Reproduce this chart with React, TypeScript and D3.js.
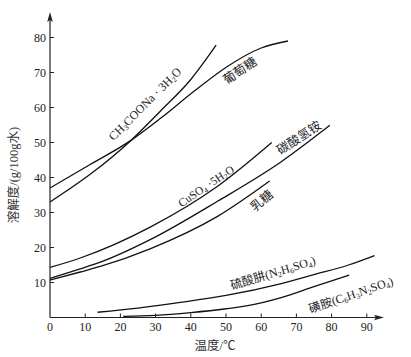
import React from "react";
import * as d3 from "d3";

// ---- data ----
const xTicks = [0, 10, 20, 30, 40, 50, 60, 70, 80, 90];
const yTicks = [10, 20, 30, 40, 50, 60, 70, 80];

const ch3coonaT = [0, 11.4, 23, 31.4, 40, 47.2];
const ch3coonaS = [33, 40.9, 50.6, 59, 68, 77.8];

const glucoseT = [0, 11.4, 23, 31.4, 41, 50.5, 60, 67.6];
const glucoseS = [37, 43.7, 50.6, 56.9, 64.7, 71.8, 77, 79];

const cuso4T = [0, 8.6, 28.6, 47.6, 63];
const cuso4S = [14.3, 17.0, 25.9, 37.5, 50];

const nh4hco3T = [0, 8.6, 14.3, 28.6, 47.6, 65.7, 79.5];
const nh4hco3S = [11.2, 13.9, 15.8, 22.3, 33.2, 44.5, 54.9];

const lactoseT = [0, 8.6, 14.3, 28.6, 47.6, 62.4];
const lactoseS = [10.7, 13.0, 14.6, 19.7, 28.9, 39];

const hydrazineT = [13.5, 25, 37, 50, 65.7, 75.2, 84.8, 92.2];
const hydrazineS = [1.5, 2.7, 4.3, 6.3, 9.7, 12.3, 15.0, 17.7];

const sulfaT = [20.8, 30, 40, 50, 56.2, 65.7, 75.2, 85];
const sulfaS = [0.3, 0.6, 1.4, 2.5, 3.4, 5.7, 8.9, 12.1];

const xTitle = "温度/℃";
const yTitle = "溶解度/(g/100g水)";

type Part = { t: string; sub?: boolean };

const series: { T: number[]; S: number[] }[] = [
  { T: ch3coonaT, S: ch3coonaS },
  { T: glucoseT, S: glucoseS },
  { T: cuso4T, S: cuso4S },
  { T: nh4hco3T, S: nh4hco3S },
  { T: lactoseT, S: lactoseS },
  { T: hydrazineT, S: hydrazineS },
  { T: sulfaT, S: sulfaS },
];

const labels: { parts: Part[]; x: number; y: number; angle: number; size: number }[] = [
  {
    parts: [{ t: "CH" }, { t: "3", sub: true }, { t: "COONa · 3H" }, { t: "2", sub: true }, { t: "O" }],
    x: 145, y: 104, angle: -45, size: 12,
  },
  { parts: [{ t: "葡萄糖" }], x: 240, y: 71, angle: -34, size: 12.5 },
  {
    parts: [{ t: "CuSO" }, { t: "4", sub: true }, { t: " ·5H" }, { t: "2", sub: true }, { t: "O" }],
    x: 206, y: 186, angle: -34, size: 11.5,
  },
  { parts: [{ t: "碳酸氢铵" }], x: 299, y: 138, angle: -33, size: 12.5 },
  { parts: [{ t: "乳糖" }], x: 262, y: 201, angle: -40, size: 12.5 },
  {
    parts: [{ t: "硫酸肼(N" }, { t: "2", sub: true }, { t: "H" }, { t: "6", sub: true }, { t: "SO" }, { t: "4", sub: true }, { t: ")" }],
    x: 273, y: 273, angle: -17, size: 12,
  },
  {
    parts: [{ t: "磺胺(C" }, { t: "6", sub: true }, { t: "H" }, { t: "3", sub: true }, { t: "N" }, { t: "2", sub: true }, { t: "SO" }, { t: "4", sub: true }, { t: ")" }],
    x: 351, y: 295, angle: -19, size: 12,
  },
];

const FONT = '"Liberation Serif", "Times New Roman", "Noto Sans CJK SC", serif';

export default function App() {
  const W = 411;
  const H = 357;
  const x = d3.scaleLinear().domain([0, 90]).range([50, 366.8]);
  const y = d3.scaleLinear().domain([0, 80]).range([317.5, 37.5]);

  const line = d3
    .line<[number, number]>()
    .x((d) => x(d[0]))
    .y((d) => y(d[1]))
    .curve(d3.curveMonotoneX);

  const x0 = x(0);
  const y0 = y(0);
  const xEnd = 384;
  const yTop = 12;

  const renderParts = (parts: Part[], size: number) => {
    const out: React.ReactNode[] = [];
    let shifted = false;
    parts.forEach((p, i) => {
      if (p.sub) {
        out.push(
          <tspan key={i} fontSize={size * 0.65} dy={shifted ? 0 : size * 0.25}>
            {p.t}
          </tspan>
        );
        shifted = true;
      } else {
        out.push(
          <tspan key={i} dy={shifted ? -size * 0.25 : 0}>
            {p.t}
          </tspan>
        );
        shifted = false;
      }
    });
    return out;
  };

  return (
    <svg
      width={W}
      height={H}
      style={{ position: "absolute", left: 0, top: 0, background: "#fff" }}
      fontFamily={FONT}
    >
      {/* curves */}
      {series.map((s, i) => (
        <path
          key={i}
          d={line(s.T.map((t, j) => [t, s.S[j]] as [number, number])) || ""}
          fill="none"
          stroke="#111"
          strokeWidth={1.3}
        />
      ))}

      {/* axes */}
      <line x1={x0} y1={y0} x2={xEnd - 6} y2={y0} stroke="#222" strokeWidth={1.2} />
      <path d={`M${xEnd},${y0} L${xEnd - 10},${y0 - 2.8} L${xEnd - 8},${y0} L${xEnd - 10},${y0 + 2.8} Z`} fill="#222" />
      <line x1={x0} y1={y0} x2={x0} y2={yTop + 6} stroke="#222" strokeWidth={1.2} />
      <path d={`M${x0},${yTop} L${x0 - 2.8},${yTop + 10} L${x0},${yTop + 8} L${x0 + 2.8},${yTop + 10} Z`} fill="#222" />

      {xTicks.map((t) => (
        <g key={"xt" + t}>
          {t > 0 && <line x1={x(t)} x2={x(t)} y1={y0} y2={y0 - 4} stroke="#222" strokeWidth={1} />}
          <text x={x(t)} y={331} textAnchor="middle" fontSize={12} fill="#222">
            {t}
          </text>
        </g>
      ))}
      {yTicks.map((v) => (
        <g key={"yt" + v}>
          <line x1={x0} x2={x0 + 4} y1={y(v)} y2={y(v)} stroke="#222" strokeWidth={1} />
          <text x={46} y={y(v) + 4} textAnchor="end" fontSize={12} fill="#222">
            {v}
          </text>
        </g>
      ))}

      {/* axis titles */}
      <text x={215} y={350} textAnchor="middle" fontSize={12.5} fill="#333">
        {xTitle}
      </text>
      <text
        transform={`translate(18,175) rotate(-90)`}
        textAnchor="middle"
        fontSize={12.5}
        fill="#333"
      >
        {yTitle}
      </text>

      {/* curve labels */}
      {labels.map((l, i) => (
        <text
          key={"lb" + i}
          transform={`translate(${l.x},${l.y}) rotate(${l.angle})`}
          textAnchor="middle"
          dominantBaseline="central"
          fontSize={l.size}
          fill="#222"
        >
          {renderParts(l.parts, l.size)}
        </text>
      ))}
    </svg>
  );
}
